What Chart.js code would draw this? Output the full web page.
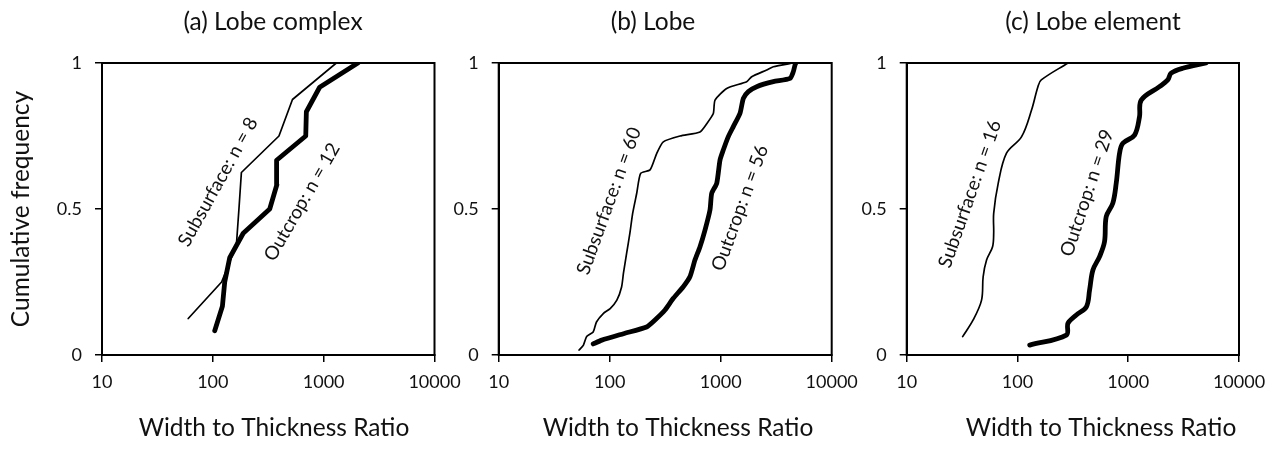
<!DOCTYPE html>
<html>
<head>
<meta charset="utf-8">
<script src="https://cdn.jsdelivr.net/npm/chart.js@4.4.1/dist/chart.umd.min.js"></script>
<style>
  html, body { margin: 0; padding: 0; background: #fff; }
  #wrap { position: relative; width: 1286px; height: 451px; overflow: hidden; }
  #wrap canvas { position: absolute; left: 0; top: 0; }
</style>
</head>
<body>
<div id="wrap">
  <canvas id="cA" width="1286" height="451"></canvas>
  <canvas id="cB" width="1286" height="451"></canvas>
  <canvas id="cC" width="1286" height="451"></canvas>
</div>
<script>
// ---------- data ----------
const xTickValues = [10, 100, 1000, 10000];
const yTickValues = [0, 0.5, 1];
const panelTitles = ['(a) Lobe complex', '(b) Lobe', '(c) Lobe element'];
const seriesNames = ['Subsurface', 'Outcrop'];
const xAxisTitle = 'Width to Thickness Ratio';
const yAxisTitle = 'Cumulative frequency';
const countsA = [8, 12];
const countsB = [60, 56];
const countsC = [16, 29];

// (a) Lobe complex
const aSubX = [60, 120, 163, 172, 181, 395, 523, 1300];
const aSubY = [0.125, 0.25, 0.375, 0.5, 0.625, 0.75, 0.875, 1];
const aOutX = [104, 122, 128, 142, 188, 326, 378, 376, 689, 698, 920, 2036];
const aOutY = [0.083, 0.167, 0.25, 0.333, 0.417, 0.5, 0.583, 0.667, 0.75, 0.833, 0.917, 1];

// (b) Lobe
const bSubX = [53, 58, 62, 71, 76, 87.5, 101, 116, 128, 133, 142, 152, 161, 175, 190, 231, 265, 304, 430, 651, 748, 858, 889, 1133, 1715, 1902, 2595, 2979, 4508];
const bSubY = [0.017, 0.034, 0.063, 0.079, 0.113, 0.142, 0.159, 0.188, 0.233, 0.28, 0.348, 0.417, 0.485, 0.553, 0.622, 0.634, 0.69, 0.73, 0.75, 0.764, 0.792, 0.827, 0.873, 0.913, 0.936, 0.953, 0.976, 0.987, 1];
const bOutX = [71, 85, 133, 215, 256, 315, 374, 460, 528, 586, 651, 722, 801, 830, 921, 986, 1055, 1171, 1299, 1493, 1600, 1775, 2110, 2980, 4207, 4508, 4670, 4750];
const bOutY = [0.038, 0.051, 0.073, 0.096, 0.12, 0.154, 0.194, 0.234, 0.268, 0.325, 0.371, 0.428, 0.497, 0.554, 0.588, 0.668, 0.702, 0.748, 0.782, 0.828, 0.879, 0.902, 0.919, 0.936, 0.947, 0.97, 0.993, 1];

// (c) Lobe element
const cSubX = [32, 39.8, 47.4, 49, 52.6, 59.6, 61, 61, 67, 79.6, 109, 134, 153, 164, 286];
const cSubY = [0.063, 0.12, 0.188, 0.268, 0.325, 0.371, 0.417, 0.485, 0.588, 0.691, 0.748, 0.839, 0.919, 0.942, 1];
const cOutX = [129, 276, 286, 340, 419, 448, 480, 551, 611, 633, 726, 779, 835, 894, 1140, 1264, 1310, 1914, 2274, 2438, 3104, 5045];
const cOutY = [0.034, 0.068, 0.109, 0.137, 0.165, 0.223, 0.291, 0.337, 0.388, 0.474, 0.52, 0.588, 0.691, 0.725, 0.753, 0.816, 0.873, 0.919, 0.942, 0.965, 0.982, 1];

// ---------- helpers ----------
const FONT = 'Lato, "Open Sans", "DejaVu Sans", sans-serif';
const TEXT_COLOR = '#111';
const CANVAS_W = 1286, CANVAS_H = 451;
const TITLE_SIZE = 24.5;
const LABEL_SIZE = 19;

function toPoints(xs, ys) { return xs.map((x, i) => ({ x: x, y: ys[i] })); }

const framePlugin = {
  id: 'frame',
  afterDraw(chart) {
    const a = chart.chartArea, ctx = chart.ctx;
    ctx.save();
    ctx.strokeStyle = '#000';
    ctx.lineWidth = 2;
    ctx.strokeRect(a.left, a.top, a.right - a.left, a.bottom - a.top);
    ctx.restore();
  }
};

const textPlugin = {
  id: 'texts',
  afterDraw(chart, args, opts) {
    const ctx = chart.ctx;
    (opts.items || []).forEach(t => {
      ctx.save();
      ctx.translate(t.x, t.y);
      ctx.rotate((t.rot || 0) * Math.PI / 180);
      ctx.font = (t.size || LABEL_SIZE) + 'px ' + FONT;
      ctx.fillStyle = TEXT_COLOR;
      ctx.textAlign = 'center';
      ctx.textBaseline = 'middle';
      ctx.fillText(t.text, 0, 0);
      ctx.restore();
    });
  }
};

function makePanel(canvasId, geo, sub, out, tension, texts) {
  const yW = 60;
  return new Chart(document.getElementById(canvasId), {
    type: 'line',
    data: {
      datasets: [
        { label: seriesNames[0], data: sub, borderColor: '#000', borderWidth: 1.7,
          pointRadius: 0, tension: tension, fill: false,
          borderCapStyle: 'round', borderJoinStyle: 'round' },
        { label: seriesNames[1], data: out, borderColor: '#000', borderWidth: 4.8,
          pointRadius: 0, tension: tension, fill: false,
          borderCapStyle: 'round', borderJoinStyle: 'round' }
      ]
    },
    options: {
      responsive: false,
      animation: false,
      layout: { padding: { left: geo.left - yW, right: CANVAS_W - geo.right, top: geo.top, bottom: 0 } },
      plugins: {
        legend: { display: false },
        tooltip: { enabled: false },
        title: { display: false },
        texts: { items: texts }
      },
      scales: {
        x: {
          type: 'logarithmic',
          min: 10, max: 10000,
          afterBuildTicks: s => { s.ticks = xTickValues.map(v => ({ value: v, major: true })); },
          afterFit: s => { s.height = CANVAS_H - geo.bottom; },
          ticks: { autoSkip: false, maxRotation: 0, padding: 9, color: TEXT_COLOR,
                   font: { family: FONT, size: 18 }, callback: v => String(v) },
          grid: { display: true, drawOnChartArea: false, drawTicks: true, tickLength: 7,
                  color: '#000', lineWidth: 1.5 },
          border: { display: true, color: '#000', width: 2 }
        },
        y: {
          type: 'linear',
          min: 0, max: 1,
          afterBuildTicks: s => { s.ticks = yTickValues.map(v => ({ value: v })); },
          afterFit: s => { s.width = yW; },
          ticks: { autoSkip: false, padding: 13, color: TEXT_COLOR,
                   font: { family: FONT, size: 18 }, callback: v => String(v) },
          grid: { display: true, drawOnChartArea: false, drawTicks: true, tickLength: 7,
                  color: '#000', lineWidth: 1.5 },
          border: { display: true, color: '#000', width: 2 }
        }
      }
    },
    plugins: [framePlugin, textPlugin]
  });
}

function lbl(name, n) { return name + ': n = ' + n; }

makePanel('cA', { left: 102, right: 434.5, top: 63, bottom: 355 },
  toPoints(aSubX, aSubY), toPoints(aOutX, aOutY), 0, [
    { text: panelTitles[0], x: 273, y: 22, size: TITLE_SIZE },
    { text: xAxisTitle, x: 274, y: 428, size: TITLE_SIZE },
    { text: yAxisTitle, x: 21, y: 209, rot: -90, size: TITLE_SIZE },
    { text: lbl(seriesNames[0], countsA[0]), x: 218, y: 182, rot: -61 },
    { text: lbl(seriesNames[1], countsA[1]), x: 302, y: 202, rot: -60 }
  ]);

makePanel('cB', { left: 498.7, right: 831.7, top: 63, bottom: 355 },
  toPoints(bSubX, bSubY), toPoints(bOutX, bOutY), 0.2, [
    { text: panelTitles[1], x: 653, y: 22, size: TITLE_SIZE },
    { text: xAxisTitle, x: 678, y: 428, size: TITLE_SIZE },
    { text: lbl(seriesNames[0], countsB[0]), x: 609, y: 201, rot: -70 },
    { text: lbl(seriesNames[1], countsB[1]), x: 740, y: 208, rot: -70 }
  ]);

makePanel('cC', { left: 906.7, right: 1239, top: 63, bottom: 355 },
  toPoints(cSubX, cSubY), toPoints(cOutX, cOutY), 0.35, [
    { text: panelTitles[2], x: 1093, y: 22, size: TITLE_SIZE },
    { text: xAxisTitle, x: 1101, y: 428, size: TITLE_SIZE },
    { text: lbl(seriesNames[0], countsC[0]), x: 970, y: 194, rot: -70.6 },
    { text: lbl(seriesNames[1], countsC[1]), x: 1087, y: 193, rot: -71.6 }
  ]);
</script>
</body>
</html>
